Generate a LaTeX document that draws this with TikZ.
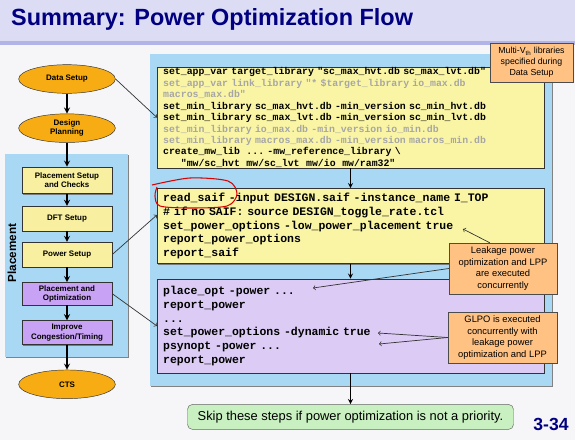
\documentclass[tikz,border=0pt]{standalone}
\usepackage{fontspec}
\setmainfont{Liberation Sans}
\setmonofont{Liberation Mono}
\usetikzlibrary{positioning,shapes.geometric,shadows}

\definecolor{titlefg}{HTML}{000080}
\definecolor{titlebg}{HTML}{DCDDF4}
\definecolor{titleline}{HTML}{B2B4E8}
\definecolor{pagebg}{HTML}{F6F6F8}
\definecolor{panelblue}{HTML}{A8D8F4}
\definecolor{codeyellow}{HTML}{FAF5A5}
\definecolor{codepurple}{HTML}{DCCCF5}
\definecolor{codegrey}{HTML}{A6A6A6}
\definecolor{flowyellow}{HTML}{F8F0A0}
\definecolor{flowpurple}{HTML}{C8A2F4}
\definecolor{ovalorange}{HTML}{F6AC12}
\definecolor{calloutorange}{HTML}{FFC283}
\definecolor{notegreen}{HTML}{C8F0C0}

\newcommand{\greyline}[1]{\textcolor{codegrey}{#1}}
\newcommand{\codefont}[2]{\ttfamily\bfseries\fontsize{#1}{#2}\selectfont\spaceskip=0.6em\relax}

\begin{document}
\begin{tikzpicture}[
  x=0.03cm, y=0.03cm,
  node distance=3.6mm,
  boxshadow/.style={drop shadow={shadow xshift=1pt, shadow yshift=-1pt, fill=black!60, opacity=0.8}},
  stageoval/.style={
    ellipse,
    draw=black!80,
    fill=ovalorange,
    inner sep=0pt,
    minimum width=2.9cm,
    minimum height=0.86cm,
    align=center,
    font=\fontsize{6.8}{8}\selectfont\bfseries
  },
  stepbox/.style={
    draw=black!80,
    fill=flowyellow,
    boxshadow,
    minimum width=2.7cm,
    minimum height=0.74cm,
    inner sep=1pt,
    align=center,
    font=\fontsize{6.8}{8}\selectfont\bfseries
  },
  codebox/.style={
    draw=black!80,
    fill=codeyellow,
    boxshadow,
    inner xsep=0.18cm,
    inner ysep=0pt,
    text width=11.24cm,
    align=left
  },
  callout/.style={
    draw=black!70,
    fill=calloutorange,
    inner sep=1pt,
    align=center,
    font=\fontsize{8}{10}\selectfont
  },
  flow/.style={->, >=stealth, line width=1.3pt},
  link/.style={->, black!80, line width=0.6pt}
]

% Page and title band
\fill[pagebg] (0,0) rectangle (575,-440);
\useasboundingbox (0,0) rectangle (575,-440);
\fill[titlebg] (0,0) rectangle (575,-41);
\fill[titleline] (0,-41) rectangle (575,-45);
\node[anchor=west, text=titlefg, font=\fontsize{20}{24}\selectfont\bfseries] (title) at (7,-19) {Summary: Power Optimization Flow};

% Panels
\node[fill=panelblue, boxshadow, minimum width=12.06cm, minimum height=9.96cm] (optpanel) at (351,-220) {};
\node[fill=panelblue, boxshadow, minimum width=3.69cm, minimum height=6.09cm] (placepanel) at (66.5,-255.5) {};
\node[rotate=90, font=\fontsize{10}{12}\selectfont\bfseries] (placelabel) at (12,-253) {Placement};

% Flow on the left
\node[stageoval] (datasetup) at (67,-79) {Data Setup};
\node[stageoval, below=0.6cm of datasetup] (designplan) {Design\\Planning};
\node[stepbox, minimum height=0.8cm, below=0.72cm of designplan] (setupbox) {Placement Setup\\and Checks};
\node[stepbox, below=of setupbox] (dftbox) {DFT Setup};
\node[stepbox, below=0.33cm of dftbox] (powerbox) {Power Setup};
\node[stepbox, fill=flowpurple, minimum height=0.68cm, below=0.45cm of powerbox] (placeoptbox) {Placement and\\Optimization};
\node[stepbox, fill=flowpurple, minimum height=0.72cm, below=0.45cm of placeoptbox] (improvebox) {Improve\\Congestion/Timing};
\node[stageoval, below=0.75cm of improvebox] (cts) {CTS};

\draw[flow] (datasetup.south) -- (designplan.north);
\draw[flow] (designplan.south) -- (setupbox.north);
\draw[flow] (setupbox.south) -- (dftbox.north);
\draw[flow] (dftbox.south) -- (powerbox.north);
\draw[flow] (powerbox.south) -- (placeoptbox.north);
\draw[flow] (placeoptbox.south) -- (improvebox.north);
\draw[flow] (improvebox.south) -- (cts.north);

% Script boxes
\node[codebox, minimum height=3.03cm, font=\codefont{8.4}{9.8}] (code1) at (350.5,-117.5) {%
set\_app\_var target\_library "sc\_max\_hvt.db sc\_max\_lvt.db"\\
\greyline{set\_app\_var link\_library "* \$target\_library io\_max.db}\\
\greyline{macros\_max.db"}\\
set\_min\_library sc\_max\_hvt.db -min\_version sc\_min\_hvt.db\\
set\_min\_library sc\_max\_lvt.db -min\_version sc\_min\_lvt.db\\
\greyline{set\_min\_library io\_max.db -min\_version io\_min.db}\\
\greyline{set\_min\_library macros\_max.db -min\_version macros\_min.db}\\
create\_mw\_lib~~...~-mw\_reference\_library \textbackslash\\
\hspace*{1.8em}"mw/sc\_hvt~~mw/sc\_lvt~~mw/io~~mw/ram32"};

\node[codebox, minimum height=2.25cm, below=0.6cm of code1, font=\codefont{9.8}{11.6}] (code2) {%
read\_saif -input DESIGN.saif -instance\_name I\_TOP\\
\# if no SAIF: source DESIGN\_toggle\_rate.tcl\\
set\_power\_options -low\_power\_placement true\\
report\_power\_options\\
report\_saif};

\node[codebox, fill=codepurple, minimum height=2.82cm, below=0.45cm of code2, font=\codefont{9.8}{11.7}] (code3) {%
place\_opt -power ...\\
report\_power\\
...\\
set\_power\_options -dynamic true\\
psynopt -power ...\\
report\_power};

\node[draw=black!60, fill=notegreen, rounded corners=1.5mm, minimum width=9.78cm, minimum height=0.75cm, font=\fontsize{11}{13}\selectfont, below=0.93cm of code3] (skipnote) {Skip these steps if power optimization is not a priority.};

\draw[flow, line width=1pt] (code1.south) -- (code2.north);
\draw[flow, line width=1pt] (code2.south) -- (code3.north);
\draw[flow, line width=1pt] (code3.south) -- (code3.south |- skipnote.north);

% Hand-drawn mark round read_saif
\draw[red!85!black, line width=0.9pt] plot[smooth] coordinates {(152,-185) (190,-178) (228,-181) (237,-194) (227,-206) (190,-208) (160,-206) (155,-196) (157,-187)};

% Links from the flow to the scripts
\draw[link] (datasetup.east) -- (code1.west);
\draw[link] (powerbox.east) -- ([yshift=0.33cm]code2.west);
\draw[link] (placeoptbox.east) -- (code3.west);

% Callouts
\node[callout, font=\fontsize{7.5}{9.5}\selectfont, minimum width=2.49cm, minimum height=1.17cm] (multivth) at (531.5,-62.5) {Multi-V\textsubscript{th} libraries\\specified during\\Data Setup};
\node[callout, minimum width=3.24cm, minimum height=1.53cm] (leakcall) at (503,-268.5) {Leakage power\\optimization and LPP\\are executed\\concurrently};
\node[callout, minimum width=3.27cm, minimum height=1.53cm] (glpocall) at (502.5,-337.5) {GLPO is executed\\concurrently with\\leakage power\\optimization and LPP};

\coordinate (lpptrue) at (463,-229);
\coordinate (placeoptend) at (313,-288);
\coordinate (dyntrue) at (378,-333);
\coordinate (psynoptend) at (379,-344);

\draw[link] ([xshift=1.23cm]leakcall.north west) -- (lpptrue);
\draw[link] (leakcall.west) -- (placeoptend);
\draw[link] (glpocall.west) -- (dyntrue);
\draw[link] (glpocall.west) -- (psynoptend);

% Slide number
\node[text=titlefg, font=\fontsize{15}{18}\selectfont\bfseries] (slidenum) at (551,-424) {3-34};

\end{tikzpicture}
\end{document}
